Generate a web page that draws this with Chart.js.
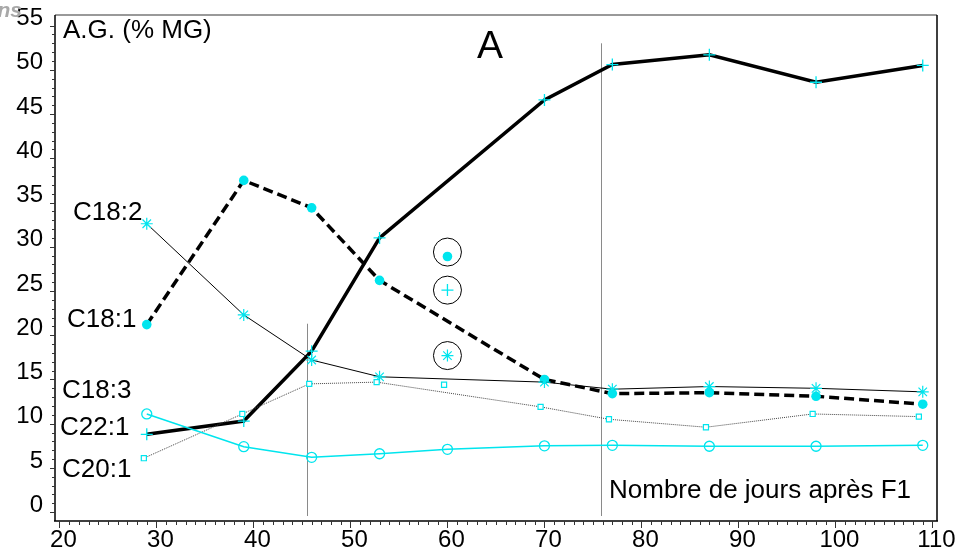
<!DOCTYPE html>
<html>
<head>
<meta charset="utf-8">
<script src="https://cdn.jsdelivr.net/npm/chart.js@4/dist/chart.umd.min.js"></script>
<style>
html,body{margin:0;padding:0;background:#fff;}
#c{display:block;}
</style>
</head>
<body>
<canvas id="c" width="958" height="554"></canvas>
<script>
// ---- data ----
const days      = [29, 39, 46, 53, 70, 77, 87, 98, 109];
const daysSq    = [28.7, 38.85, 45.75, 52.7, 69.6, 76.65, 86.65, 97.65, 108.6];
const daysC20   = [29, 39, 46, 53, 60, 70, 77, 87, 98, 109];
const c18_1 = [21.2, 37.5, 34.4, 26.2, 15.0, 13.4, 13.5, 13.1, 12.2];
const c18_2 = [32.6, 22.3, 17.2, 15.3, 14.7, 13.9, 14.2, 14.0, 13.6];
const c18_3 = [8.8, 10.3, 18.2, 31.0, 46.6, 50.6, 51.7, 48.6, 50.5];
const c22_1 = [6.1, 11.1, 14.5, 14.7, 11.9, 10.5, 9.6, 11.1, 10.8];
const c20_1 = [11.1, 7.4, 6.2, 6.6, 7.1, 7.5, 7.55, 7.45, 7.45, 7.55];
const circledX = 60;
const circledRings = [29.4, 25.1, 17.7];
const circledMarks = [28.9, 25.1, 17.7];
const straySquare = {x: 59.65, y: 14.4};
const xTickLabels = [20, 30, 40, 50, 60, 70, 80, 90, 100, 110];
const yTickLabels = [0, 5, 10, 15, 20, 25, 30, 35, 40, 45, 50, 55];
const vLines = [{x: 45.5, yTop: 21.3}, {x: 75.8, yTop: 53.0}];
const seriesNames = ['C18:2', 'C18:1', 'C18:3', 'C22:1', 'C20:1'];

const pts = (xs, ys) => xs.map((x, i) => ({x: x, y: ys[i]}));
const CY = '#00e5ee';
const FONT = '"Liberation Sans", Arial, sans-serif';

const framePlugin = {
  id: 'frame',
  beforeDatasetsDraw(chart) {
    const {ctx, chartArea: a, scales: {x, y}} = chart;
    ctx.save();
    ctx.strokeStyle = '#8a8a8a';
    ctx.lineWidth = 1;
    vLines.forEach(v => {
      const px = Math.round(x.getPixelForValue(v.x)) + 0.5;
      ctx.beginPath();
      ctx.moveTo(px, y.getPixelForValue(v.yTop));
      ctx.lineTo(px, a.bottom - 5);
      ctx.stroke();
    });
    ctx.restore();
  },
  afterDraw(chart) {
    const {ctx, chartArea: a, scales: {x, y}} = chart;
    ctx.save();
    ctx.strokeStyle = '#777';
    ctx.lineWidth = 1.5;
    ctx.beginPath(); ctx.moveTo(a.left, a.top); ctx.lineTo(a.right, a.top); ctx.stroke();
    ctx.strokeStyle = '#000';
    ctx.lineWidth = 1.5;
    ctx.beginPath();
    ctx.moveTo(a.left, a.top); ctx.lineTo(a.left, a.bottom);
    ctx.moveTo(a.left - 1, a.bottom); ctx.lineTo(a.right + 1, a.bottom);
    ctx.moveTo(a.right, a.top); ctx.lineTo(a.right, a.bottom);
    ctx.stroke();
    ctx.lineWidth = 1;
    ctx.strokeStyle = '#333';
    ctx.beginPath();
    for (let v = 20; v <= 110; v++) {
      const px = Math.round(x.getPixelForValue(v)) + 0.5;
      const len = (v % 10 === 0) ? 7 : 4;
      ctx.moveTo(px, a.bottom); ctx.lineTo(px, a.bottom + len);
    }
    for (let v = 0; v <= 55; v++) {
      const py = Math.round(y.getPixelForValue(v)) + 0.5;
      const len = (v % 5 === 0) ? 5 : 3;
      ctx.moveTo(a.left, py); ctx.lineTo(a.left - len, py);
    }
    ctx.stroke();
    ctx.fillStyle = '#000';
    ctx.textBaseline = 'alphabetic';
    ctx.textAlign = 'left';
    ctx.font = '26px ' + FONT;
    ctx.fillText('A.G. (% MG)', 63, 38);
    const labelPos = [[73, 220], [67, 327], [62, 398], [60, 435], [62, 477]];
    seriesNames.forEach((n, i) => ctx.fillText(n, labelPos[i][0], labelPos[i][1]));
    ctx.fillText('Nombre de jours après F1', 609, 498);
    ctx.font = '39px ' + FONT;
    ctx.fillText('A', 477, 58);
    ctx.font = 'italic bold 21px ' + FONT;
    ctx.fillStyle = '#a8a8a8';
    ctx.textAlign = 'right';
    ctx.fillText('ins', 22, 17);
    ctx.restore();
  }
};

new Chart(document.getElementById('c'), {
  type: 'scatter',
  data: {
    datasets: [
      {label: 'C20:1', data: pts(daysC20, c20_1), showLine: true, borderColor: CY, borderWidth: 1.5,
       pointStyle: 'circle', pointRadius: 5, pointBorderColor: CY, pointBackgroundColor: 'rgba(0,0,0,0)', pointBorderWidth: 1.3},
      {label: 'C22:1', data: pts(daysSq, c22_1), showLine: true, borderColor: '#444', borderWidth: 1, borderDash: [1, 1],
       pointStyle: 'rect', pointRadius: 3.6, pointBorderColor: CY, pointBackgroundColor: '#fff', pointBorderWidth: 1.2},
      {label: 'C18:2', data: pts(days, c18_2), showLine: true, borderColor: '#000', borderWidth: 1,
       pointStyle: 'star', pointRadius: 6, pointBorderColor: CY, pointBorderWidth: 1.2},
      {label: 'C18:1', data: pts(days, c18_1), showLine: true, borderColor: '#000', borderWidth: 3.5, borderDash: [10, 5],
       pointStyle: 'circle', pointRadius: 4.8, pointBorderColor: CY, pointBackgroundColor: CY, pointBorderWidth: 0},
      {label: 'C18:3', data: pts(days, c18_3), showLine: true, borderColor: '#000', borderWidth: 3.5,
       pointStyle: 'cross', pointRadius: 6, pointBorderColor: CY, pointBorderWidth: 1.3},
      {label: 'rings', data: circledRings.map(v => ({x: circledX, y: v})), showLine: false,
       pointStyle: 'circle', pointRadius: 14, pointBorderColor: '#000', pointBackgroundColor: 'rgba(0,0,0,0)', pointBorderWidth: 1},
      {label: 'marks', data: circledMarks.map(v => ({x: circledX, y: v})), showLine: false,
       pointStyle: ['circle', 'cross', 'star'], pointRadius: [4.8, 6, 6], pointBorderColor: CY, pointBackgroundColor: CY, pointBorderWidth: [0, 1.3, 1.2]},
      {label: 'stray', data: [straySquare], showLine: false,
       pointStyle: 'rect', pointRadius: 3.6, pointBorderColor: CY, pointBackgroundColor: '#fff', pointBorderWidth: 1.2}
    ]
  },
  options: {
    responsive: false,
    animation: false,
    devicePixelRatio: 1,
    layout: {padding: {top: 12, right: 21, left: 0, bottom: 0}},
    plugins: {legend: {display: false}, tooltip: {enabled: false}},
    elements: {line: {tension: 0}},
    scales: {
      x: {
        type: 'linear', min: 19.54, max: 110.47,
        grid: {display: false, drawTicks: false, tickLength: 0}, border: {display: false},
        afterBuildTicks: s => { s.ticks = xTickLabels.map(v => ({value: v})); },
        afterFit: s => { s.height = 33; s.paddingLeft = 0; s.paddingRight = 0; },
        ticks: {color: '#000', font: {family: FONT, size: 24}, padding: 5, labelOffset: 4, maxRotation: 0, autoSkip: false}
      },
      y: {
        type: 'linear', min: -1, max: 56.2,
        grid: {display: false, drawTicks: false, tickLength: 0}, border: {display: false},
        afterBuildTicks: s => { s.ticks = yTickLabels.map(v => ({value: v})); },
        afterFit: s => { s.width = 55; s.paddingTop = 0; s.paddingBottom = 0; },
        ticks: {color: '#000', font: {family: FONT, size: 24}, padding: 12, labelOffset: -7, autoSkip: false}
      }
    }
  },
  plugins: [framePlugin]
});
</script>
</body>
</html>
